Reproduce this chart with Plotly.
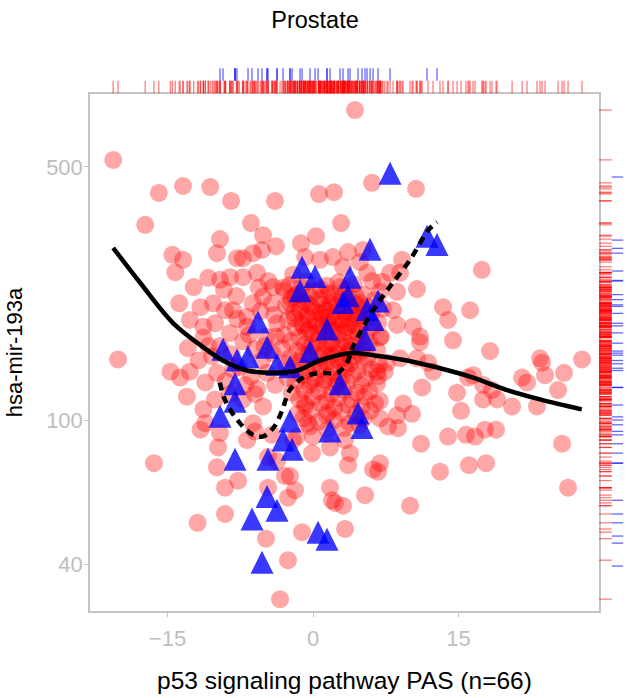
import plotly.graph_objects as go

# ---------------- data ----------------
# Red circles: all samples (PAS score vs hsa-mir-193a expression)
red_pas_outer = [
    4.33, -20.6, -15.9, -13.4, -10.6, -8.45, -3.92, 0.62, 2.16, 6.08,
    10.62, -17.3, -6.39, 2.89, -9.59, -5.15, -1.24, 0.31, -14.5, -13.4,
    -14.2, -9.90, -6.19, -5.26, -3.81, -12.3, -10.8, -9.59, -9.18, -7.83,
    -7.22, -8.56, -7.22, -5.77, -4.12, -3.09, -13.8, -11.6, -10.3, -9.07,
    -12.7, -11.3, -10.1, -8.25, -6.80, -5.15, -4.23, -2.37, -2.06, -0.82,
    0.72, 2.06, 3.09, -3.71, -12.9, -11.3, -8.56, -6.80,
    17.4, 3.61, 5.15, 9.18, 7.94, 8.97, 4.85, 5.57, 7.11, 8.66,
    10.72, 13.40, 13.92, 16.19, 8.25, 8.66, 10.31, 11.03, 14.43, 18.25, 6.91,
    23.40, 23.61, 27.73, 25.88, 23.92, 21.55, 22.06, 25.26, 16.49, 15.98,
    17.53, 18.45, 18.97, 17.53, 20.52, 23.09, 14.85, 15.26, 11.24, 12.37,
    11.86, 10.72, 8.97, 7.63, 6.60, 9.28, 10.21, 8.66, 7.73, 8.76,
    6.91, 13.92, 15.77, 16.70, 17.73, 18.87, 11.13, 13.09, 16.08, 17.84,
    25.67, 26.29, 10.0, 5.36, 6.91, 6.70, 3.30, 3.61, 3.09, 3.81, 11.03,
    -20.1, -16.4, -14.7, -13.7, -12.7, -13.0, -11.1, -11.3, -11.1, -10.1,
    -9.79, -9.90, -9.07, -9.07, -11.9, -7.73, -6.80, -6.19, -5.15, -5.77,
    -7.22, -3.71, -2.89, -2.37, -1.86, -4.85, -2.58, -3.40, -1.13, -0.10,
    1.75, 2.27, -0.52, 1.75, -2.06, -9.90, -8.25, -11.6, -9.59, 1.96,
    -5.98, -4.64, -2.58, -4.64, 0.0, 6.19, 3.30, 1.55, -0.82, -1.65, -4.23, -4.74,
    -9.6, -8.4, -7.2, -6.0, -4.8, -10.4, -7.6, -6.4, -5.3, -4.2,
    -9.0, -7.0, -6.0, -3.9, -8.6, -5.0, -3.8, -6.6, -11.8, -10.8,
    -7.8, -5.4, -4.0, -6.2, -7.9, -5.6, -4.6,
]
red_mir_outer = [
    718, 523, 424, 443, 440, 403, 403, 421, 426, 452,
    435, 346, 350, 350, 316, 324, 308, 322, 286, 277,
    256, 289, 289, 295, 302, 233, 247, 244, 229, 280,
    280, 248, 248, 255, 233, 232, 210, 205, 210, 201,
    189, 181, 185, 201, 193, 219, 210, 210, 252, 282,
    277, 282, 265, 185, 158, 169, 174, 181,
    260, 291, 295, 277, 255, 255, 273, 255, 241, 226,
    230, 205, 189, 201, 201, 183, 181, 170, 166, 155, 169,
    148, 144, 147, 135, 133, 131, 127, 121, 133, 131,
    125, 121, 114, 114, 109, 109, 119, 106, 123, 136,
    144, 148, 148, 144, 136, 111, 104, 103, 96, 95,
    101, 90, 91, 90, 94, 94, 86, 72, 75, 76,
    86, 65, 58, 62, 76, 72, 50, 75, 58, 81, 164,
    147, 76, 136, 131, 136, 116, 127, 107, 98, 114,
    84, 74, 65, 55, 52, 68, 88, 98, 109, 122,
    114, 77, 70, 70, 64, 47, 41, 32, 49, 81,
    65, 59, 98, 84, 88, 135, 138, 94, 92, 60,
    93, 79, 61, 65, 90, 73, 88, 105, 111, 90, 91, 135,
    160, 152, 165, 157, 170, 150, 140, 132, 146, 153,
    128, 125, 118, 125, 118, 160, 170, 172, 146, 160,
    190, 200, 195, 210, 220, 232, 242,
]
# dense core of the red cloud (estimated, saturated region)
red_pas_core = [
    -2.4, -0.6, 1.4, 2.6, 4.2, 6.1,
    -3.0, -1.6, 0.1, 1.8, 3.4, 5.2, 6.9,
    -2.2, -0.9, 0.6, 2.2, 3.6, 4.8, 6.4,
    -2.8, -1.4, -0.2, 1.2, 2.5, 4.0, 5.6, 7.2,
    -2.0, -0.6, 0.8, 1.8, 3.2, 4.6, 6.0,
    -2.6, -1.2, 0.2, 1.5, 2.8, 3.8, 5.2, 6.7,
    -1.8, -0.4, 1.0, 2.2, 3.5, 4.8, 6.2,
    -3.0, -1.4, 0.0, 1.2, 2.6, 4.0, 5.4, 7.0,
    -2.3, -0.8, 0.6, 1.9, 3.2, 4.4, 5.8,
    -3.2, -1.6, -0.3, 1.1, 2.5, 3.7, 5.0, 6.6,
    -2.4, -1.0, 0.7, 1.8, 3.1, 4.2, 5.6,
    -2.8, -1.4, 0.1, 1.4, 2.6, 3.8, 5.2, 6.8,
    -2.0, -0.6, 0.8, 2.1, 3.4, 4.6, 6.0, 7.4,
    -2.6, -1.2, 0.2, 1.6, 2.9, 4.1, 5.4, 6.7,
    -1.8, -0.4, 1.1, 2.4, 3.6, 5.0, 6.6,
    -2.2, -0.9, 0.6, 1.9, 3.2, 4.5, 5.8,
    -1.4, 0.0, 1.4, 2.6, 4.0, 5.3, 6.9,
    -0.8, 0.8, 2.2, 3.6, 5.0, 6.4,
    -1.6, -0.2, 1.4, 3.0, 4.4, 5.9,
    -1.0, 0.6, 2.2, 3.8, 5.2,
    -0.3, 1.5, 3.2, 4.8,
    -1.2, 0.8, 2.8,
    -1.9, -0.3, 1.5, 3.0, 4.4,
    -0.5, 0.9, 1.8, 3.1, 4.5,
    -1.3, 0.2, 1.3, 2.6, 3.8, 5.1,
    -1.9, -0.4, 1.0, 2.2, 3.4, 4.5,
    -1.0, 0.4, 1.7, 3.0, 4.3,
    -0.7, 0.6, 1.9, 3.2, 4.6,
    0.0, 1.4, 2.8, 4.0,
    -0.4, 1.2, 2.4, 3.6, 4.8,
    -1.0, 0.6, 2.0, 3.2,
    -0.2, 1.2, 2.6,
]
red_mir_core = [
    236, 241, 235, 240, 237, 242,
    228, 223, 227, 224, 229, 222, 226,
    217, 212, 216, 214, 218, 211, 215,
    207, 203, 206, 202, 207, 204, 206, 203,
    198, 195, 197, 193, 198, 195, 197,
    189, 185, 188, 186, 189, 185, 188, 186,
    180, 178, 181, 177, 180, 178, 181,
    172, 169, 173, 170, 172, 169, 171, 170,
    165, 162, 166, 163, 165, 162, 164,
    158, 155, 159, 156, 158, 155, 157, 156,
    148, 152, 149, 151, 148, 150, 149,
    143, 145, 142, 144, 146, 143, 145, 142,
    139, 137, 138, 136, 139, 137, 138, 136,
    131, 133, 130, 132, 131, 133, 130, 132,
    127, 125, 126, 124, 127, 125, 126,
    119, 121, 120, 118, 121, 119, 120,
    114, 116, 113, 115, 114, 116, 113,
    109, 111, 108, 110, 109, 111,
    104, 106, 103, 105, 104, 106,
    101, 99, 100, 98, 101,
    96, 94, 95, 97,
    232, 230, 233,
    220, 219, 221, 218, 220,
    209, 208, 210, 209, 208,
    200, 199, 200, 201, 199, 200,
    191, 190, 192, 191, 190, 192,
    182, 183, 182, 184, 182,
    175, 174, 176, 175, 174,
    160, 161, 160, 161,
    153, 152, 153, 152, 153,
    140, 141, 140, 141,
    128, 129, 128,
]

# Blue triangles: samples of the highlighted group
blue_pas = [
    7.94, 11.75, 12.78, 5.88, -1.13, 3.81, 0.21, -1.34, 3.61, 6.70,
    5.57, 6.19, 5.36, -5.67, 1.44, 3.09, -9.28, -7.84, -6.70, -4.74,
    -3.71, -2.37, -0.31, 2.78, -8.04, -8.04, -9.59, -2.37, -3.09, -2.16,
    1.75, 4.64, 5.05, -8.04, -4.64, -4.74, -3.71, -6.29, -5.26, 0.52,
    1.44,
]
blue_mir = [
    469, 314, 298, 289, 258, 242, 243, 222, 215, 208,
    197, 185, 163, 182, 174, 206, 153, 143, 146, 155,
    139, 137, 151, 123, 123, 110, 100, 97, 86, 81,
    91, 102, 93, 76, 76, 60, 55, 52, 39.5, 47.8,
    45.7,
]

# Smoothed trends (solid: all samples, dashed: blue group)
fit_all_pas = [-20.6, -17.8, -14.4, -10.9, -9.3, -6.8, -4.1, -1.6, 0.7, 3.8,
               6.2, 9.7, 13.1, 16.5, 20.0, 23.4, 27.7]
fit_all_mir = [299, 239, 185, 156, 146, 137, 135, 137, 146, 153,
               151, 146, 139, 131, 121, 114, 107]
fit_grp_pas = [-9.6, -9.1, -7.8, -6.2, -5.2, -4.1, -3.2, -2.4, -1.0, 0.7,
               2.5, 3.5, 4.1, 6.2, 7.9, 10.0, 11.9, 12.8]
fit_grp_mir = [127, 114, 100, 91, 90, 95, 106, 121, 131, 135,
               135, 144, 159, 201, 233, 277, 335, 352]

x_tick_vals = [-15, 0, 15]
y_tick_vals = [40, 100, 500]

TITLE = "Prostate"
X_TITLE = "p53 signaling pathway PAS (n=66)"
Y_TITLE = "hsa-mir-193a"

# ---------------- figure ----------------
assert len(red_pas_outer) == len(red_mir_outer)
assert len(red_pas_core) == len(red_mir_core)
assert len(blue_pas) == len(blue_mir)

red_pas = red_pas_outer + red_pas_core
red_mir = red_mir_outer + red_mir_core

FONT = "Liberation Sans, Arial, Helvetica, sans-serif"
GREY = "#BEBEBE"

X_DOM = [0.0, 0.9514]
Y_DOM = [0.0, 0.93829]


def rug(vals, lo, hi):
    a, b = [], []
    for v in vals:
        a += [v, v, None]
        b += [lo, hi, None]
    return a, b


fig = go.Figure()

fig.add_trace(go.Scatter(
    x=red_pas, y=red_mir, mode="markers", xaxis="x", yaxis="y",
    marker=dict(symbol="circle", size=18, color="rgba(255,0,0,0.35)", line=dict(width=0)),
    hoverinfo="skip", showlegend=False))

fig.add_trace(go.Scatter(
    x=blue_pas, y=blue_mir, mode="markers", xaxis="x", yaxis="y",
    marker=dict(symbol="arrow-down", angle=180, standoff=15.3, size=23,
                color="rgba(0,0,255,0.78)", line=dict(width=0)),
    hoverinfo="skip", showlegend=False))

fig.add_trace(go.Scatter(
    x=fit_all_pas, y=fit_all_mir, mode="lines", xaxis="x", yaxis="y",
    line=dict(color="black", width=4.5, shape="spline", smoothing=1.0),
    hoverinfo="skip", showlegend=False))

fig.add_trace(go.Scatter(
    x=fit_grp_pas, y=fit_grp_mir, mode="lines", xaxis="x", yaxis="y",
    line=dict(color="black", width=4.5, dash="8px,6px", shape="spline", smoothing=1.0),
    hoverinfo="skip", showlegend=False))

# top rugs (x values)
rx, ry = rug(red_pas, 0.02, 0.39)
fig.add_trace(go.Scatter(x=rx, y=ry, mode="lines", xaxis="x", yaxis="y2",
                         line=dict(color="rgba(255,0,0,0.5)", width=1.3),
                         hoverinfo="skip", showlegend=False))
bx, by = rug(blue_pas, 0.39, 0.76)
fig.add_trace(go.Scatter(x=bx, y=by, mode="lines", xaxis="x", yaxis="y2",
                         line=dict(color="rgba(0,0,255,0.6)", width=1.3),
                         hoverinfo="skip", showlegend=False))

# right rugs (y values)
ry2, rx2 = rug(red_mir, 0.0, 0.49)
fig.add_trace(go.Scatter(x=rx2, y=ry2, mode="lines", xaxis="x2", yaxis="y",
                         line=dict(color="rgba(255,0,0,0.5)", width=1.3),
                         hoverinfo="skip", showlegend=False))
by2, bx2 = rug(blue_mir, 0.49, 0.93)
fig.add_trace(go.Scatter(x=bx2, y=by2, mode="lines", xaxis="x2", yaxis="y",
                         line=dict(color="rgba(0,0,255,0.6)", width=1.3),
                         hoverinfo="skip", showlegend=False))

fig.update_layout(
    width=630, height=698,
    margin=dict(l=90, r=5, t=60, b=87, pad=0),
    paper_bgcolor="white", plot_bgcolor="white",
    font=dict(family=FONT, color="black"),
    title=dict(text=TITLE, x=0.5, xref="container", xanchor="center",
               y=1 - 20 / 698, yref="container", yanchor="middle",
               font=dict(size=23.5, color="black", family=FONT)),
    xaxis=dict(domain=X_DOM, range=[-22.99, 29.48], anchor="y",
               tickvals=x_tick_vals, showgrid=False, zeroline=False,
               showline=True, mirror=True, linecolor="#C4C4C4", linewidth=1.5,
               ticks="outside", ticklen=4, tickcolor="#C4C4C4", tickwidth=1,
               ticklabelstandoff=3,
               tickfont=dict(size=22, color=GREY, family=FONT),
               title=dict(text=X_TITLE, standoff=22, font=dict(size=24.5, color="black", family=FONT)),
               automargin=False),
    yaxis=dict(domain=Y_DOM, type="log", range=[1.47238, 2.90055], anchor="x",
               tickvals=y_tick_vals, ticktext=[str(v) for v in y_tick_vals],
               showgrid=False, zeroline=False,
               showline=True, mirror=True, linecolor="#C4C4C4", linewidth=1.5,
               ticks="outside", ticklen=4, tickcolor="#C4C4C4", tickwidth=1,
               ticklabelstandoff=-3,
               tickfont=dict(size=22, color=GREY, family=FONT),
               title=dict(text=Y_TITLE, standoff=17, font=dict(size=22, color="black", family=FONT)),
               automargin=False),
    xaxis2=dict(domain=[X_DOM[1], 1.0], range=[0, 1], anchor="y", visible=False,
                showgrid=False, zeroline=False, fixedrange=True),
    yaxis2=dict(domain=[Y_DOM[1], 1.0], range=[0, 1], anchor="x", visible=False,
                showgrid=False, zeroline=False, fixedrange=True),
)

fig.write_html("out.html",
               config={"displayModeBar": False},
               post_script="document.body.style.margin='0px';document.body.style.overflow='hidden';")
